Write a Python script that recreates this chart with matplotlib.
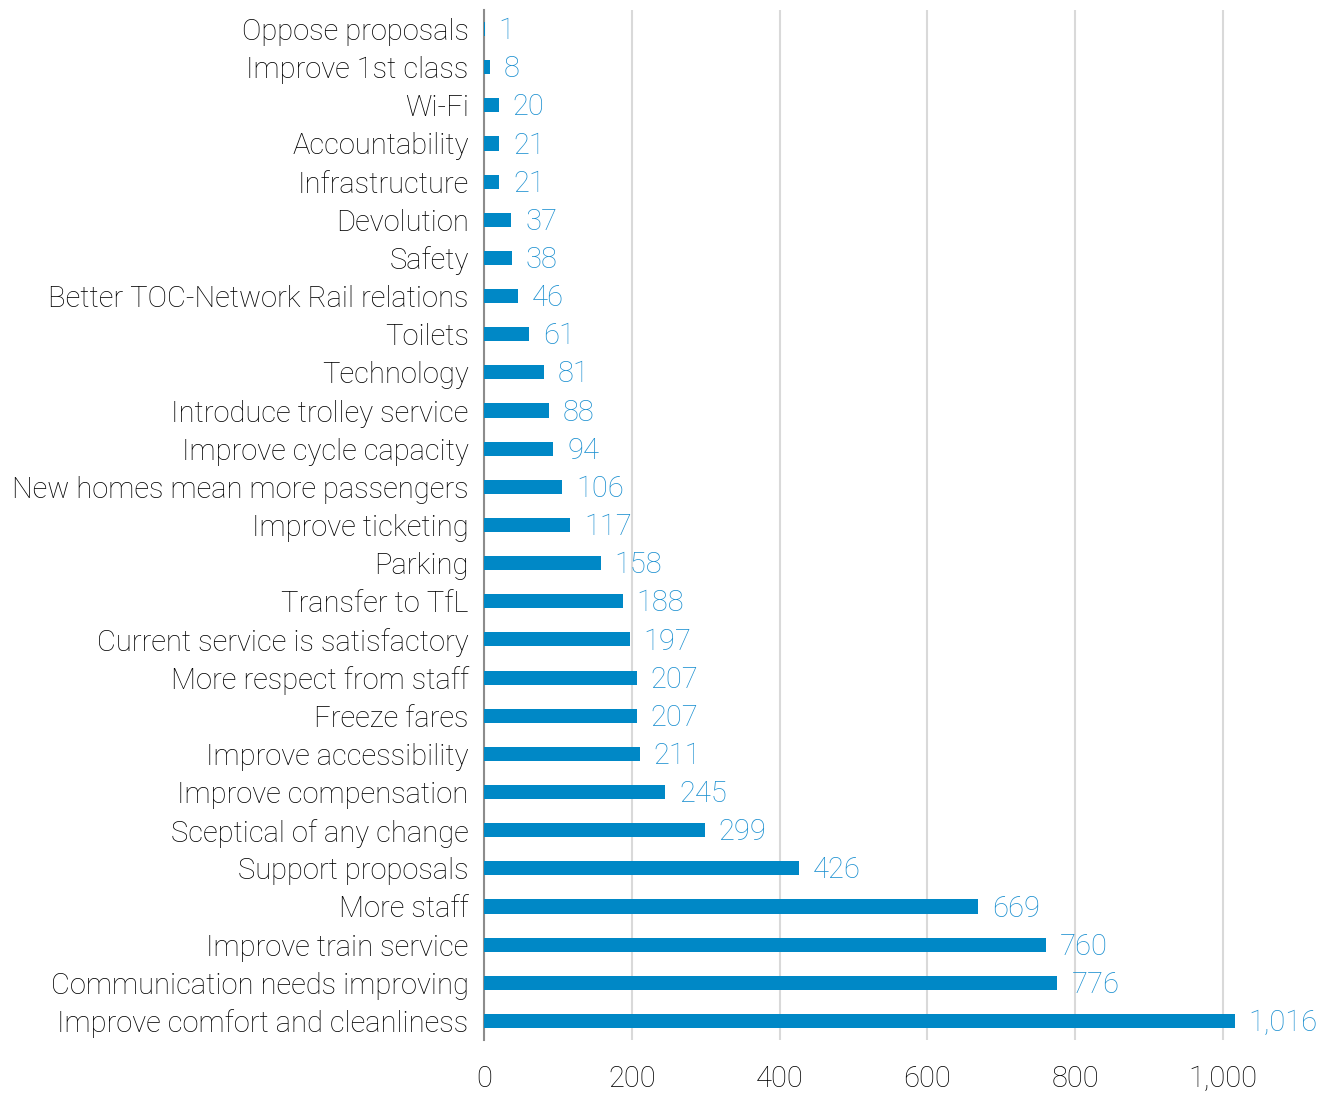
import matplotlib.pyplot as plt
from matplotlib.ticker import FuncFormatter

categories = [
    "Oppose proposals", "Improve 1st class", "Wi-Fi", "Accountability",
    "Infrastructure", "Devolution", "Safety", "Better TOC-Network Rail relations",
    "Toilets", "Technology", "Introduce trolley service", "Improve cycle capacity",
    "New homes mean more passengers", "Improve ticketing", "Parking",
    "Transfer to TfL", "Current service is satisfactory", "More respect from staff",
    "Freeze fares", "Improve accessibility", "Improve compensation",
    "Sceptical of any change", "Support proposals", "More staff",
    "Improve train service", "Communication needs improving",
    "Improve comfort and cleanliness",
]
values = [1, 8, 20, 21, 21, 37, 38, 46, 61, 81, 88, 94, 106, 117, 158, 188,
          197, 207, 207, 211, 245, 299, 426, 669, 760, 776, 1016]
xticks = [0, 200, 400, 600, 800, 1000]

plt.rcParams['font.family'] = ['Roboto', 'Liberation Sans', 'DejaVu Sans']
plt.rcParams['font.weight'] = 'light'

fig = plt.figure(figsize=(13.35, 10.93), dpi=100)
ax = fig.add_axes([0.3625, 0.0485, 0.609, 0.9424])

bar_color = "#0088C6"
label_color = "#1A8FD0"

pos = list(range(len(categories)))
ax.barh(pos, values, height=0.37, color=bar_color, zorder=3)
for p, v in zip(pos, values):
    ax.annotate(f"{v:,}", (v, p), xytext=(10, -1.5), textcoords="offset points",
                va="center", ha="left", fontsize=21, color=label_color)

ax.set_yticks(pos)
ax.set_yticklabels(categories, fontsize=21, color="#000000")
ax.set_ylim(len(categories) - 0.5, -0.5)
ax.set_xlim(0, 1100)
ax.set_xticks(xticks)
ax.xaxis.set_major_formatter(FuncFormatter(lambda x, _: f"{int(x):,}"))
ax.tick_params(axis="x", labelsize=21, length=0, pad=18, colors="#000000")
ax.tick_params(axis="y", length=0, pad=11)

ax.grid(axis="x", color="#d9d9d9", linewidth=1.5, zorder=0)
for s in ["top", "right", "bottom"]:
    ax.spines[s].set_visible(False)
ax.spines["left"].set_color("#8c8c8c")
ax.spines["left"].set_linewidth(1.5)
ax.spines["left"].set_zorder(2)

fig.savefig("out.png", dpi=100, facecolor="white")
